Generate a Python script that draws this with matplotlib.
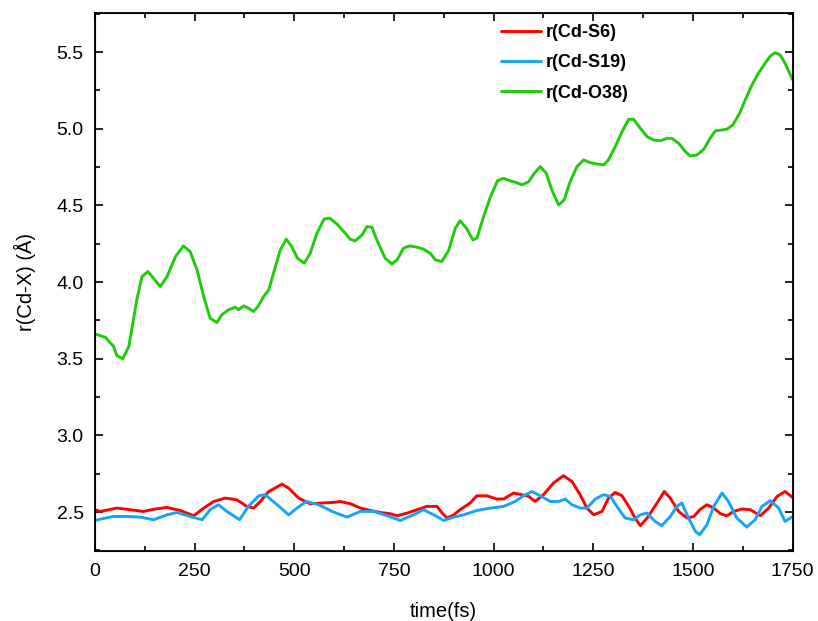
import numpy as np
import matplotlib
matplotlib.use("Agg")
import matplotlib.pyplot as plt
from matplotlib.ticker import MultipleLocator

plt.rcParams['font.family'] = ['Liberation Sans', 'DejaVu Sans']

# Cd-S6 distance (fs, Å)
t_s6 = [0, 14, 55, 89, 122, 151, 181, 214, 248, 273, 298, 327, 356, 381, 398, 415,
        436, 469, 486, 511, 540, 570, 599, 615, 641, 666, 691, 716, 741, 758, 783,
        808, 833, 858, 870, 883, 900, 916, 941, 958, 983, 1008, 1025, 1050, 1071,
        1088, 1104, 1125, 1150, 1175, 1196, 1217, 1234, 1251, 1272, 1288, 1305,
        1322, 1339, 1355, 1368, 1385, 1410, 1428, 1443, 1464, 1485, 1502, 1517,
        1535, 1552, 1569, 1585, 1602, 1623, 1644, 1669, 1690, 1711, 1731, 1750]
r_s6 = [2.515, 2.504, 2.526, 2.515, 2.504, 2.52, 2.53, 2.51, 2.476, 2.526, 2.569,
        2.591, 2.58, 2.537, 2.526, 2.569, 2.634, 2.682, 2.656, 2.591, 2.554, 2.559,
        2.563, 2.569, 2.554, 2.526, 2.51, 2.497, 2.489, 2.476, 2.493, 2.515, 2.537,
        2.537, 2.497, 2.461, 2.482, 2.515, 2.559, 2.606, 2.606, 2.585, 2.585, 2.624,
        2.613, 2.602, 2.569, 2.613, 2.689, 2.737, 2.7, 2.613, 2.526, 2.482, 2.504,
        2.591, 2.628, 2.606, 2.537, 2.461, 2.411, 2.461, 2.559, 2.634, 2.591, 2.504,
        2.461, 2.471, 2.515, 2.548, 2.526, 2.489, 2.476, 2.504, 2.52, 2.515, 2.476,
        2.526, 2.602, 2.634, 2.595]

# Cd-S19 distance
t_s19 = [0, 14, 47, 80, 114, 147, 181, 206, 239, 269, 289, 310, 331, 363, 385, 411,
         427, 457, 486, 507, 530, 561, 595, 632, 666, 699, 733, 766, 799, 824, 850,
         875, 900, 925, 958, 992, 1025, 1054, 1075, 1096, 1117, 1142, 1163, 1180,
         1196, 1217, 1234, 1255, 1276, 1293, 1309, 1330, 1351, 1368, 1385, 1405,
         1422, 1443, 1460, 1472, 1489, 1506, 1517, 1535, 1552, 1573, 1589, 1610,
         1635, 1656, 1673, 1694, 1715, 1731, 1750]
r_s19 = [2.445, 2.454, 2.471, 2.471, 2.467, 2.45, 2.482, 2.497, 2.471, 2.45, 2.515,
         2.548, 2.504, 2.45, 2.537, 2.606, 2.613, 2.548, 2.482, 2.526, 2.569, 2.548,
         2.504, 2.467, 2.504, 2.504, 2.476, 2.445, 2.482, 2.515, 2.482, 2.445, 2.467,
         2.482, 2.51, 2.526, 2.537, 2.569, 2.606, 2.634, 2.606, 2.569, 2.569, 2.585,
         2.548, 2.526, 2.526, 2.585, 2.613, 2.602, 2.537, 2.461, 2.45, 2.482, 2.493,
         2.439, 2.411, 2.471, 2.537, 2.559, 2.461, 2.374, 2.352, 2.417, 2.537, 2.624,
         2.569, 2.461, 2.402, 2.45, 2.537, 2.574, 2.526, 2.439, 2.471]

# Cd-O38 distance
t_o38 = [0, 26, 47, 55, 70, 85, 93, 105, 118, 133, 147, 164, 181, 202, 222, 239,
         256, 273, 289, 306, 318, 335, 352, 360, 373, 385, 398, 410, 423, 436, 448,
         465, 480, 494, 508, 525, 540, 557, 575, 589, 607, 628, 640, 653, 670, 682,
         695, 707, 728, 745, 758, 774, 789, 807, 824, 841, 854, 870, 887, 904, 916,
         932, 948, 958, 975, 992, 1010, 1025, 1042, 1058, 1071, 1088, 1102, 1117,
         1132, 1146, 1163, 1177, 1192, 1209, 1226, 1242, 1259, 1276, 1288, 1305,
         1322, 1339, 1351, 1368, 1385, 1401, 1418, 1435, 1447, 1464, 1481, 1493,
         1510, 1527, 1543, 1556, 1572, 1585, 1600, 1617, 1631, 1648, 1664, 1681,
         1694, 1706, 1719, 1731, 1750]
r_o38 = [3.662, 3.64, 3.58, 3.52, 3.50, 3.58, 3.70, 3.884, 4.036, 4.069, 4.025,
         3.971, 4.036, 4.166, 4.236, 4.199, 4.08, 3.905, 3.765, 3.736, 3.786, 3.819,
         3.836, 3.819, 3.845, 3.83, 3.808, 3.845, 3.905, 3.949, 4.058, 4.21, 4.28,
         4.231, 4.156, 4.123, 4.188, 4.319, 4.412, 4.417, 4.379, 4.319, 4.28, 4.269,
         4.308, 4.362, 4.358, 4.275, 4.156, 4.119, 4.145, 4.221, 4.236, 4.228, 4.215,
         4.188, 4.145, 4.134, 4.205, 4.352, 4.40, 4.351, 4.275, 4.286, 4.427, 4.557,
         4.662, 4.677, 4.660, 4.649, 4.634, 4.655, 4.71, 4.753, 4.71, 4.601, 4.503,
         4.536, 4.655, 4.753, 4.797, 4.779, 4.771, 4.764, 4.797, 4.883, 4.981, 5.062,
         5.062, 5.003, 4.949, 4.927, 4.922, 4.938, 4.938, 4.905, 4.851, 4.823, 4.829,
         4.866, 4.938, 4.986, 4.992, 4.997, 5.025, 5.101, 5.188, 5.286, 5.362, 5.427,
         5.475, 5.496, 5.481, 5.427, 5.32]

fig = plt.figure(figsize=(8.18, 6.21), dpi=100)
ax = fig.add_axes([0.116, 0.112, 0.853, 0.867])

kw = dict(lw=2.1, solid_joinstyle="round", solid_capstyle="round")
ax.plot(t_s6, r_s6, color="#FF0000", label="r(Cd-S6)", **kw)
ax.plot(t_s19, r_s19, color="#18A4F4", label="r(Cd-S19)", **kw)
ax.plot(t_o38, r_o38, color="#1ECC0A", label="r(Cd-O38)", **kw)

ax.set_xlim(0, 1750)
ax.set_ylim(2.243, 5.755)
ax.xaxis.set_major_locator(MultipleLocator(250))
ax.xaxis.set_minor_locator(MultipleLocator(125))
ax.yaxis.set_major_locator(MultipleLocator(0.5))
ax.yaxis.set_minor_locator(MultipleLocator(0.25))
ax.yaxis.set_major_formatter(plt.FormatStrFormatter('%.1f'))

ax.tick_params(which="both", direction="in", right=True, width=1.2,
               labelsize=14, pad=8)
ax.tick_params(which="major", length=6)
ax.tick_params(which="minor", length=3.5)
for s in ax.spines.values():
    s.set_linewidth(1.3)

# top ticks without labels
axt = ax.twiny()
axt.set_xlim(ax.get_xlim())
axt.xaxis.set_major_locator(MultipleLocator(250))
axt.xaxis.set_minor_locator(MultipleLocator(125))
axt.tick_params(which="both", direction="in", labeltop=False, width=1.2)
axt.tick_params(which="major", length=6)
axt.tick_params(which="minor", length=3.5)

ax.set_xlabel("time(fs)", fontsize=14.5, labelpad=16)
ax.set_ylabel("r(Cd-X) (Å)", fontsize=14.5, labelpad=15)

ax.legend(loc="upper left", bbox_to_anchor=(0.6125, 0.961), bbox_transform=fig.transFigure,
          frameon=False, borderpad=0, borderaxespad=0, handlelength=2.2,
          handletextpad=0.3, labelspacing=0.73, prop={"weight": "bold", "size": 13})

fig.savefig("out.png", dpi=100)
